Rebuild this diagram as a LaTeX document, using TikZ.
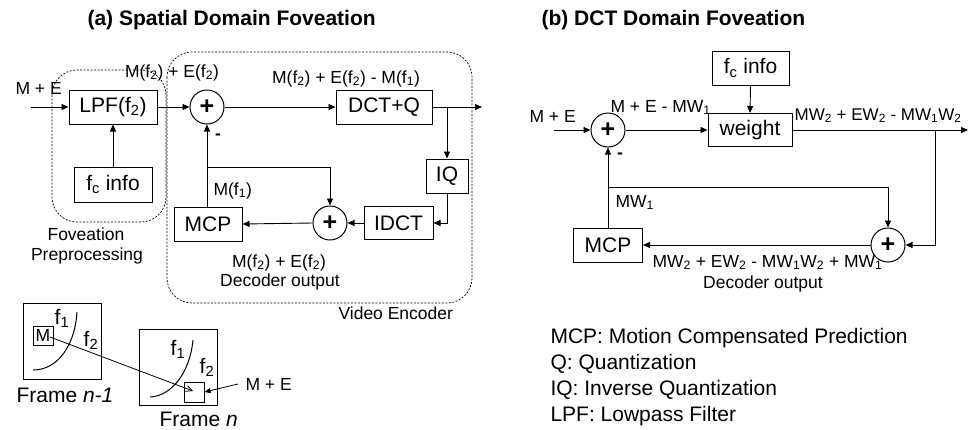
\documentclass[tikz,border=0pt]{standalone}
\usepackage{fontspec}
\setmainfont{Liberation Sans}
\usetikzlibrary{arrows.meta}
\newcommand\sbs[1]{\textsubscript{#1}}
\begin{document}
\begin{tikzpicture}[x=1pt,y=-1pt,
  big/.style={font=\fontsize{21}{25}\selectfont},
  lab/.style={font=\fontsize{17.5}{20}\selectfont},
  ttl/.style={font=\fontsize{21}{25}\selectfont\bfseries},
  blk/.style={draw,line width=1pt,inner sep=0pt,big},
  sumc/.style={draw,circle,line width=1pt,minimum size=34pt,inner sep=0pt,font=\fontsize{25}{25}\selectfont\bfseries},
  ln/.style={line width=0.9pt},
  arr/.style={line width=0.9pt,-{Triangle[length=7pt,width=6pt]}},
  dsh/.style={line width=0.7pt,dash pattern=on 2pt off 1.5pt,rounded corners=25pt}
]
\useasboundingbox (0,0) rectangle (968,429);

% titles
\node[ttl,anchor=base west] (ta) at (84,25) {(a) Spatial Domain Foveation};
\node[ttl,anchor=base west] (tb) at (538,25) {(b) DCT Domain Foveation};

% ---------- (a) ----------
\draw[dsh] (52,70) rectangle (166,222);
\draw[dsh] (167,52) rectangle (472,303);

\node[blk,minimum width=88pt,minimum height=34pt] (lpf) at (113,107) {LPF(f\sbs{2})};
\node[blk,minimum width=78pt,minimum height=35pt] (fca) at (113,184.5) {f\sbs{c} info};
\node[sumc] (sa1) at (207,107) {+};
\node[blk,minimum width=96pt,minimum height=34pt] (dct) at (384,107) {DCT+Q};
\node[blk,minimum width=42pt,minimum height=34pt] (iq) at (447,176) {IQ};
\node[blk,minimum width=69pt,minimum height=33pt] (idct) at (398.5,223) {IDCT};
\node[sumc] (sa2) at (330,223) {+};
\node[blk,minimum width=68pt,minimum height=34pt] (mcpa) at (208,224) {MCP};

\coordinate (ina) at (31,107);
\coordinate (outa) at (482,107);
\coordinate (bra) at (447,107);
\coordinate (fba) at (207,167);
\coordinate (iqd) at (447,223);

\draw[arr] (ina) -- (lpf.west);
\draw[arr] (fca.north) -- (lpf.south);
\draw[arr] (lpf.east) -- (sa1.west);
\draw[arr] (sa1.east) -- (dct.west);
\draw[arr] (dct.east) -- (outa);
\draw[arr] (bra) -- (iq.north);
\draw[arr] (iq.south) -- (iqd) -- (idct.east);
\draw[arr] (idct.west) -- (sa2.east);
\draw[arr] (sa2.west) -- (mcpa.east);
\draw[arr] (sa1.south |- mcpa.north) -- (sa1.south);
\draw[arr] (fba) -| (sa2.north);

\node[lab,anchor=base west] (lme) at (12,94) {M + E};
\node[lab,anchor=base] (lsum) at (172,77) {M(f\sbs{2}) + E(f\sbs{2})};
\node[lab,font=\fontsize{17.5}{20}\selectfont\bfseries] (lmin) at (218,137) {-};
\node[lab,anchor=base] (ldiff) at (346,83) {M(f\sbs{2}) + E(f\sbs{2}) - M(f\sbs{1})};
\node[lab,anchor=base west] (lmf1) at (210,195) {M(f\sbs{1})};
\node[lab,anchor=base] (ldec1) at (279,267) {M(f\sbs{2}) + E(f\sbs{2})};
\node[lab,anchor=base] (ldec2) at (280,286) {Decoder output};
\node[lab,anchor=base west] (lve) at (335,319) {Video Encoder};
\node[lab,anchor=base] (lfp1) at (86,240) {Foveation};
\node[lab,anchor=base] (lfp2) at (87,260) {Preprocessing};

% frames
\draw[line width=1pt] (23,303) rectangle (101,379);
\node[draw,line width=1pt,minimum width=20pt,minimum height=19pt,inner sep=0pt,lab] (mb) at (43,335.5) {M};
\draw[line width=1pt] (33,370) .. controls (58,370) and (75,345) .. (77,312);
\node[big] (f1a) at (62,318) {f\sbs{1}};
\node[big] (f2a) at (91,340) {f\sbs{2}};
\node[big,anchor=base west] (fr1) at (13,402) {Frame \textit{n-1}};

\draw[line width=1pt] (139,329) rectangle (217,405);
\node[draw,line width=1pt,minimum width=20pt,minimum height=20pt,inner sep=0pt] (eb) at (194,392) {};
\draw[line width=1pt] (150,397) .. controls (172,396) and (190,372) .. (193,340);
\node[big] (f1b) at (178,349) {f\sbs{1}};
\node[big] (f2b) at (207,367) {f\sbs{2}};
\node[big,anchor=base west] (fr2) at (156,426) {Frame \textit{n}};
\coordinate (mv) at (50,337);
\coordinate (mvt) at (193,391);
\draw[line width=0.8pt,-{Straight Barb[length=6pt,width=6pt]}] (mv) -- (mvt);
\node[lab,anchor=base west] (lme2) at (242,390) {M + E};
\draw[line width=0.8pt,-{Triangle[length=6pt,width=5pt]}] (lme2.west) ++(-4,0) coordinate (mes) -- (eb.east);

% ---------- (b) ----------
\node[blk,minimum width=77pt,minimum height=34pt] (fcb) at (750.5,68) {f\sbs{c} info};
\node[blk,minimum width=84pt,minimum height=33pt] (wt) at (750,130) {weight};
\node[sumc] (sb1) at (608,130) {+};
\node[sumc] (sb2) at (888,245) {+};
\node[blk,minimum width=69pt,minimum height=34pt] (mcpb) at (608,245) {MCP};

\coordinate (inb) at (554,130);
\coordinate (outb) at (968,130);
\coordinate (brb) at (935,130);
\coordinate (brd) at (935,245);
\coordinate (fbb) at (608,187);

\draw[arr] (inb) -- (sb1.west);
\draw[arr] (sb1.east) -- (wt.west);
\draw[arr] (fcb.south) -- (wt.north);
\draw[arr] (wt.east) -- (outb);
\draw[arr] (brb) -- (brd) -- (sb2.east);
\draw[arr] (sb2.west) -- (mcpb.east);
\draw[arr] (mcpb.north) -- (sb1.south);
\draw[arr] (fbb) -| (sb2.north);

\node[lab,anchor=base west] (lme3) at (526,122) {M + E};
\node[lab,anchor=base west] (lmew) at (607,112) {M + E - MW\sbs{1}};
\node[lab,font=\fontsize{17.5}{20}\selectfont\bfseries] (lmin2) at (620,156) {-};
\node[lab,anchor=base east,font=\fontsize{17}{20}\selectfont] (lout) at (965,120) {MW\sbs{2} + EW\sbs{2} - MW\sbs{1}W\sbs{2}};
\node[lab,anchor=base west] (lmw1) at (612,207) {MW\sbs{1}};
\node[lab,anchor=base west] (ldb1) at (649,267) {MW\sbs{2} + EW\sbs{2} - MW\sbs{1}W\sbs{2} + MW\sbs{1}};
\node[lab,anchor=base] (ldb2) at (763,288) {Decoder output};

\node[big,anchor=base west] (g1) at (547,343) {MCP: Motion Compensated Prediction};
\node[big,anchor=base west] (g2) at (547,369) {Q: Quantization};
\node[big,anchor=base west] (g3) at (547,395) {IQ: Inverse Quantization};
\node[big,anchor=base west] (g4) at (547,421) {LPF: Lowpass Filter};
\end{tikzpicture}
\end{document}
